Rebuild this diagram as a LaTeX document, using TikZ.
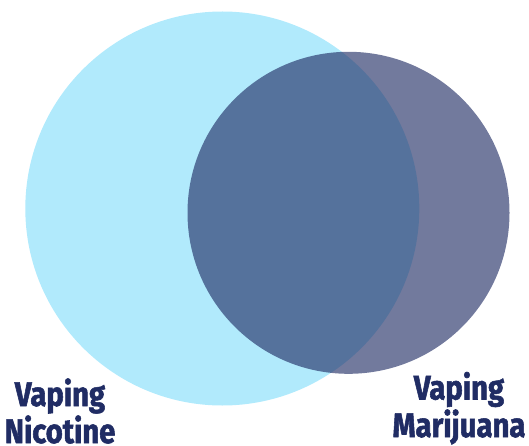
\documentclass[tikz,border=0pt]{standalone}
\usepackage{fontspec}
\usepackage{tikz}
\usetikzlibrary{positioning,calc}
\newfontfamily\labelfont[FakeStretch=0.86,FakeBold=1.6]{Fira Sans Bold}
\definecolor{sky}{RGB}{177,234,252}
\definecolor{navy}{RGB}{32,44,100}
\tikzset{
  lbl/.style={font=\labelfont\fontsize{34}{38}\selectfont,text=navy,anchor=base,inner sep=0pt},
}
\begin{document}
\begin{tikzpicture}[x=1pt,y=1pt]
  \useasboundingbox (0,0) rectangle (529,445);
  \coordinate (nic) at (222.3,236.5);
  \coordinate (mar) at (348.5,232.2);
  \fill[sky] (nic) circle (197);
  \fill[navy,fill opacity=0.63] (mar) circle (161);
  \node[lbl] (vapingN) at (60,39) {Vaping};
  \node[lbl] (nicotine) at (60,2) {Nicotine};
  \node[lbl] (vapingM) at (459,45.5) {Vaping};
  \node[lbl] (marijuana) at (459,8) {Marijuana};
\end{tikzpicture}
\end{document}
